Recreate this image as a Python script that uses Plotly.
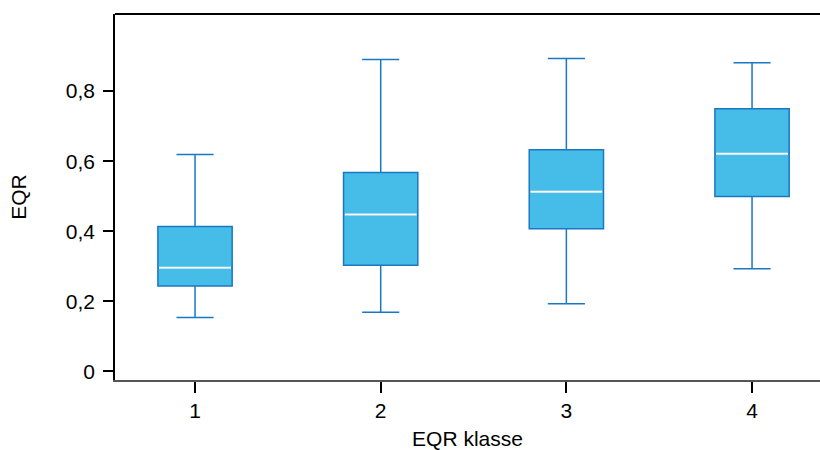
import plotly.graph_objects as go

# EQR distribution per EQR class
klasse = [1, 2, 3, 4]
lower_whisker = [0.154, 0.169, 0.193, 0.293]
q1 = [0.244, 0.303, 0.407, 0.499]
median = [0.296, 0.448, 0.513, 0.621]
q3 = [0.414, 0.568, 0.633, 0.750]
upper_whisker = [0.619, 0.890, 0.893, 0.881]

y_ticks = [0, 0.2, 0.4, 0.6, 0.8]
y_tick_text = ["0", "0,2", "0,4", "0,6", "0,8"]

FILL = "#45BDE8"
EDGE = "#1A78C2"
BOX_W = 0.4

fig = go.Figure()

for i, k in enumerate(klasse):
    fig.add_trace(go.Box(
        x=[k],
        q1=[q1[i]], median=[median[i]], q3=[q3[i]],
        lowerfence=[lower_whisker[i]], upperfence=[upper_whisker[i]],
        width=BOX_W, whiskerwidth=0.5,
        fillcolor=FILL, line=dict(color=EDGE, width=1.5),
        boxpoints=False, hoverinfo="skip", showlegend=False,
    ))
    # white median bar across the box
    half = BOX_W / 2 - 0.006
    fig.add_trace(go.Scatter(
        x=[k - half, k + half], y=[median[i], median[i]],
        mode="lines", line=dict(color="white", width=2),
        hoverinfo="skip", showlegend=False,
    ))

# frame line along the top
fig.add_shape(type="line", xref="paper", yref="paper",
              x0=0, x1=1, y0=1, y1=1,
              line=dict(color="black", width=2))

font = dict(family="Liberation Sans, Arial, sans-serif", size=21, color="black")

fig.update_layout(
    width=820, height=450,
    margin=dict(l=115, r=0, t=14, b=70),
    paper_bgcolor="white", plot_bgcolor="white",
    font=font,
    xaxis=dict(
        range=[0.569, 4.366],
        tickmode="array", tickvals=klasse, ticktext=[str(k) for k in klasse],
        ticks="outside", ticklen=11, tickwidth=1.5, tickcolor="black",
        showline=True, linecolor="#555555", linewidth=2,
        showgrid=False, zeroline=False,
        title=dict(text="EQR klasse", standoff=12, font=font),
    ),
    yaxis=dict(
        range=[-0.0243, 1.02],
        tickmode="array", tickvals=y_ticks, ticktext=y_tick_text,
        ticks="outside", ticklen=10, tickwidth=1.5, tickcolor="black",
        ticklabelstandoff=4,
        showline=True, linecolor="black", linewidth=1.5,
        showgrid=False, zeroline=False,
        title=dict(text="EQR", standoff=33, font=font),
    ),
)

fig.write_html("out.html")
